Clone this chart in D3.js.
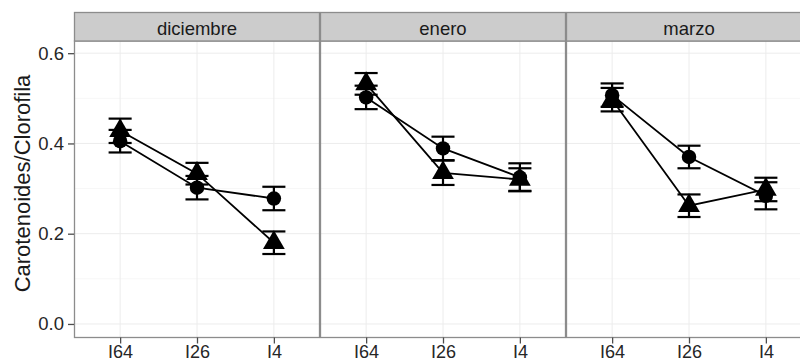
<!DOCTYPE html>
<html>
<head>
<meta charset="utf-8">
<script src="https://cdn.jsdelivr.net/npm/d3@7"></script>
<style>
  html, body { margin: 0; padding: 0; background: #fff; }
  svg { display: block; }
  text { font-family: "Liberation Sans", Arial, sans-serif; }
</style>
</head>
<body>
<svg id="chart" width="800" height="364"></svg>
<script>
// ---- data ----
const categories = ["I64", "I26", "I4"];
const months = ["diciembre", "enero", "marzo"];
const circleMean = [
  [0.405, 0.302, 0.278],
  [0.502, 0.389, 0.325],
  [0.507, 0.370, 0.284]
];
const circleErr = [
  [0.025, 0.026, 0.026],
  [0.026, 0.026, 0.031],
  [0.026, 0.025, 0.030]
];
const triangleMean = [
  [0.428, 0.333, 0.180],
  [0.532, 0.335, 0.320],
  [0.497, 0.262, 0.298]
];
const triangleErr = [
  [0.027, 0.024, 0.025],
  [0.024, 0.027, 0.025],
  [0.026, 0.025, 0.026]
];
const yTicks = [0.0, 0.2, 0.4, 0.6];
const yMinorTicks = [0.1, 0.3, 0.5];
const yTitle = "Carotenoides/Clorofila";

// ---- layout ----
const svg = d3.select("#chart");
const plotLeft = 74, panelW = 246, stripTop = 12, stripH = 29, panelTop = 41, panelBottom = 337.5;
const y = d3.scaleLinear().domain([-0.03, 0.627]).range([panelBottom, panelTop]);
const x = d3.scalePoint().domain(categories).range([0, panelW]).padding(0.6);
const capHalf = x.step() * 0.15;

const series = [
  { mean: circleMean, err: circleErr, shape: d3.symbolCircle, size: 165 },
  { mean: triangleMean, err: triangleErr, shape: d3.symbolTriangle, size: 205 }
];

months.forEach((m, mi) => {
  const px = plotLeft + mi * panelW;
  const g = svg.append("g").attr("transform", `translate(${px},0)`);

  g.append("rect").attr("x", 0).attr("y", panelTop).attr("width", panelW)
    .attr("height", panelBottom - panelTop).attr("fill", "#fff");

  g.selectAll(".minor").data(yMinorTicks).enter().append("line")
    .attr("x1", 0).attr("x2", panelW)
    .attr("y1", d => y(d)).attr("y2", d => y(d))
    .attr("stroke", "#f7f7f7").attr("stroke-width", 1);
  g.selectAll(".majory").data(yTicks).enter().append("line")
    .attr("x1", 0).attr("x2", panelW)
    .attr("y1", d => y(d)).attr("y2", d => y(d))
    .attr("stroke", "#ececec").attr("stroke-width", 1);
  g.selectAll(".majorx").data(categories).enter().append("line")
    .attr("x1", d => x(d)).attr("x2", d => x(d))
    .attr("y1", panelTop).attr("y2", panelBottom)
    .attr("stroke", "#ececec").attr("stroke-width", 1);

  series.forEach(s => {
    const pts = categories.map((c, ci) => ({ c, v: s.mean[mi][ci], e: s.err[mi][ci] }));
    const line = d3.line().x(d => x(d.c)).y(d => y(d.v));
    g.append("path").datum(pts).attr("d", line)
      .attr("fill", "none").attr("stroke", "#000").attr("stroke-width", 1.8);

    const eb = g.selectAll(null).data(pts).enter().append("g").attr("stroke", "#000").attr("stroke-width", 2.2);
    eb.append("line").attr("x1", d => x(d.c)).attr("x2", d => x(d.c))
      .attr("y1", d => y(d.v - d.e)).attr("y2", d => y(d.v + d.e));
    eb.append("line").attr("x1", d => x(d.c) - capHalf).attr("x2", d => x(d.c) + capHalf)
      .attr("y1", d => y(d.v + d.e)).attr("y2", d => y(d.v + d.e));
    eb.append("line").attr("x1", d => x(d.c) - capHalf).attr("x2", d => x(d.c) + capHalf)
      .attr("y1", d => y(d.v - d.e)).attr("y2", d => y(d.v - d.e));

    g.selectAll(null).data(pts).enter().append("path")
      .attr("d", d3.symbol().type(s.shape).size(s.size))
      .attr("transform", d => `translate(${x(d.c)},${y(d.v)})`)
      .attr("fill", "#000");
  });

  g.append("rect").attr("x", 0.5).attr("y", panelTop).attr("width", panelW - 1)
    .attr("height", panelBottom - panelTop).attr("fill", "none")
    .attr("stroke", "#8c8c8c").attr("stroke-width", 1.3);

  g.append("rect").attr("x", 0.5).attr("y", stripTop + 0.5).attr("width", panelW - 1)
    .attr("height", stripH - 0.5).attr("fill", "#cccccc")
    .attr("stroke", "#8c8c8c").attr("stroke-width", 1.3);
  g.append("text").attr("x", panelW / 2).attr("y", stripTop + 22.5)
    .attr("text-anchor", "middle").attr("font-size", 18.5).attr("fill", "#1a1a1a").text(m);

  const xa = g.append("g").attr("transform", `translate(0,${panelBottom})`)
    .call(d3.axisBottom(x).tickSize(6).tickPadding(2));
  xa.select(".domain").remove();
  xa.selectAll(".tick line").attr("stroke", "#4d4d4d").attr("stroke-width", 1.3);
  xa.selectAll(".tick text").attr("font-size", 18).attr("fill", "#262626")
    .attr("font-family", "Liberation Sans, Arial, sans-serif");
});

const ya = svg.append("g").attr("transform", `translate(${plotLeft},0)`)
  .call(d3.axisLeft(y).tickValues(yTicks).tickFormat(d3.format(".1f")).tickSize(6).tickPadding(4));
ya.select(".domain").remove();
ya.selectAll(".tick line").attr("stroke", "#4d4d4d").attr("stroke-width", 1.3);
ya.selectAll(".tick text").attr("font-size", 18.5).attr("fill", "#262626")
  .attr("font-family", "Liberation Sans, Arial, sans-serif");

svg.append("text")
  .attr("transform", `translate(30,${(71 + 296) / 2}) rotate(-90)`)
  .attr("text-anchor", "middle").attr("font-size", 22).attr("fill", "#1a1a1a")
  .text(yTitle);
</script>
</body>
</html>
